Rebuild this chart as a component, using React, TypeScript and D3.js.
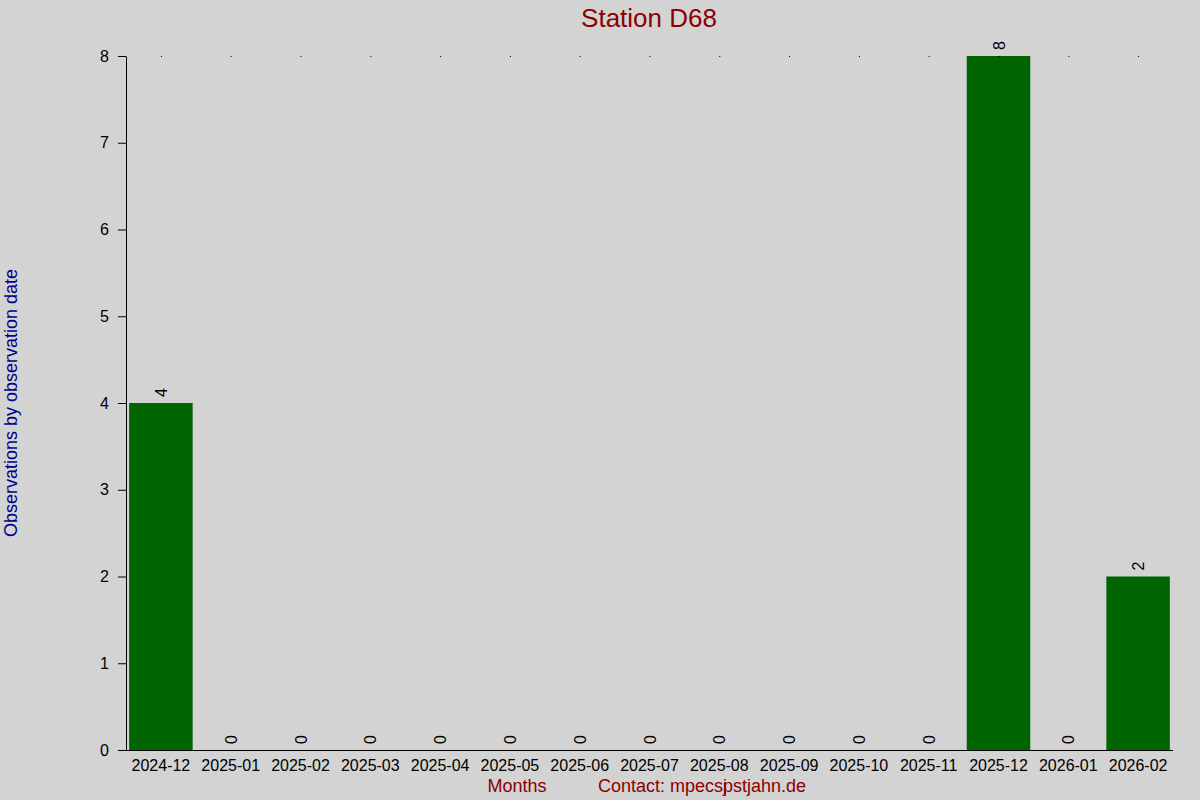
import * as d3 from "d3";
import React, { useEffect, useRef } from "react";

const months = [
  "2024-12", "2025-01", "2025-02", "2025-03", "2025-04", "2025-05", "2025-06", "2025-07",
  "2025-08", "2025-09", "2025-10", "2025-11", "2025-12", "2026-01", "2026-02",
];
const counts = [4, 0, 0, 0, 0, 0, 0, 0, 0, 0, 0, 0, 8, 0, 2];
const yTicks = [0, 1, 2, 3, 4, 5, 6, 7, 8];

const App = () => {
  const svgRef = useRef<SVGSVGElement>(null);

  useEffect(() => {
    const width = 1200,
      height = 800;
    const margin = { top: 56, right: 27, bottom: 50, left: 126 };

    const svg = d3.select(svgRef.current);
    svg.selectAll("*").remove();

    svg.append("rect").attr("width", width).attr("height", height).attr("fill", "#d3d3d3");

    const x = d3
      .scaleBand()
      .domain(months)
      .range([margin.left, width - margin.right])
      .paddingInner(0.09)
      .paddingOuter(0.045);

    const y = d3
      .scaleLinear()
      .domain([0, 8])
      .range([height - margin.bottom, margin.top]);

    const font = "Liberation Sans, Arial, sans-serif";

    // bars
    svg
      .append("g")
      .selectAll("rect")
      .data(counts)
      .enter()
      .append("rect")
      .attr("x", (_, i) => x(months[i])!)
      .attr("width", x.bandwidth())
      .attr("y", (d) => y(d))
      .attr("height", (d) => y(0) - y(d))
      .attr("fill", "#006400");

    // tiny dots at the top
    svg
      .append("g")
      .selectAll("rect")
      .data(months)
      .enter()
      .append("rect")
      .attr("x", (d) => x(d)! + x.bandwidth() / 2)
      .attr("y", y(8))
      .attr("width", 1)
      .attr("height", 1)
      .attr("fill", "#000");

    // value labels
    svg
      .append("g")
      .selectAll("text")
      .data(counts)
      .enter()
      .append("text")
      .attr(
        "transform",
        (d, i) => `translate(${x(months[i])! + x.bandwidth() / 2 + 6},${y(d) - 6}) rotate(-90)`
      )
      .attr("font-family", font)
      .attr("font-size", 16)
      .attr("fill", "#000")
      .text((d) => d);

    // y axis
    const yAxis = svg
      .append("g")
      .attr("transform", `translate(${margin.left},0)`)
      .call(d3.axisLeft(y).tickValues(yTicks).tickSize(8).tickSizeOuter(0).tickPadding(9));
    yAxis.selectAll("text").attr("font-family", font).attr("font-size", 16).attr("fill", "#000");
    yAxis.selectAll("line, path").attr("stroke", "#000");

    // x axis
    svg
      .append("line")
      .attr("x1", margin.left)
      .attr("x2", width - margin.right)
      .attr("y1", y(0) + 0.5)
      .attr("y2", y(0) + 0.5)
      .attr("stroke", "#000");
    svg
      .append("g")
      .selectAll("text")
      .data(months)
      .enter()
      .append("text")
      .attr("x", (d) => x(d)! + x.bandwidth() / 2)
      .attr("y", y(0) + 21)
      .attr("text-anchor", "middle")
      .attr("font-family", font)
      .attr("font-size", 16)
      .attr("fill", "#000")
      .text((d) => d);

    // title
    svg
      .append("text")
      .attr("x", 649)
      .attr("y", 27)
      .attr("text-anchor", "middle")
      .attr("font-family", font)
      .attr("font-size", 26)
      .attr("fill", "#8b0000")
      .text("Station D68");

    // axis titles
    svg
      .append("text")
      .attr("transform", `translate(17,403) rotate(-90)`)
      .attr("text-anchor", "middle")
      .attr("font-family", font)
      .attr("font-size", 18)
      .attr("fill", "#00008b")
      .text("Observations by observation date");

    svg
      .append("text")
      .attr("x", 517)
      .attr("y", 792)
      .attr("text-anchor", "middle")
      .attr("font-family", font)
      .attr("font-size", 18)
      .attr("fill", "#8b0000")
      .text("Months");

    const contact = svg
      .append("text")
      .attr("x", 598)
      .attr("y", 792)
      .attr("font-family", font)
      .attr("font-size", 18)
      .attr("fill", "#8b0000");
    contact.append("tspan").text("Contact: mpecs");
    contact.append("tspan").text("j");
    contact.append("tspan").attr("dx", -4).text("pstjahn.de");
  }, []);

  return (
    <svg
      ref={svgRef}
      width={1200}
      height={800}
      style={{ position: "absolute", left: 0, top: 0, display: "block" }}
    ></svg>
  );
};

export default App;
